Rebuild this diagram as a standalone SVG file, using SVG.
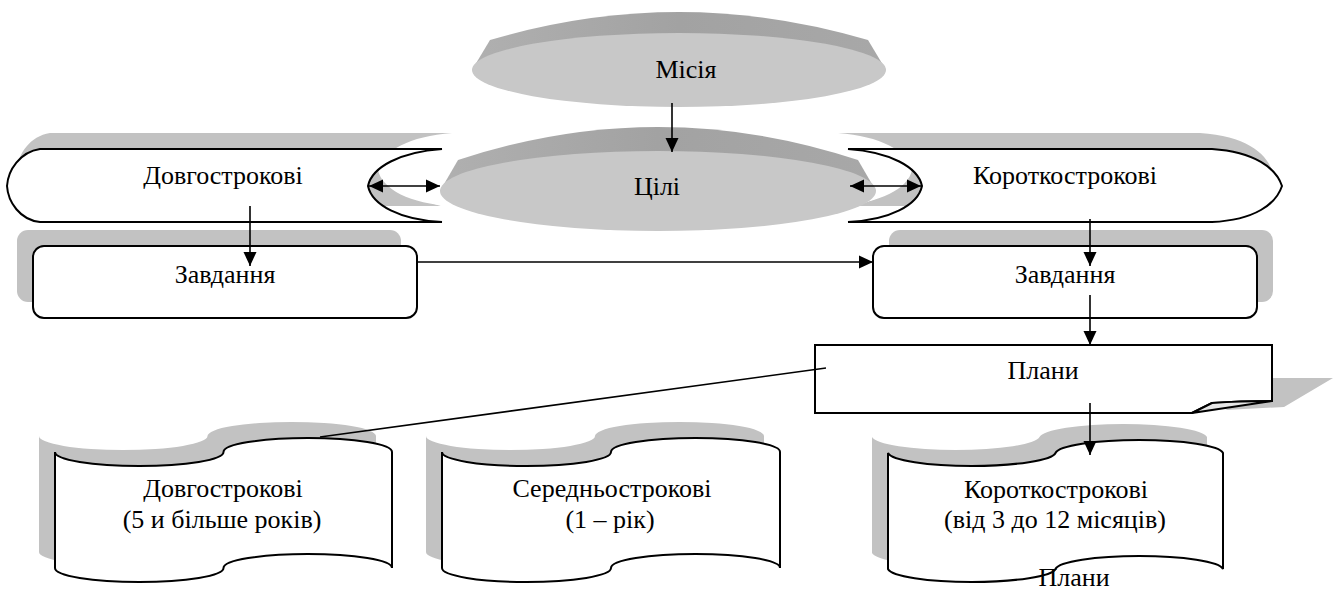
<svg xmlns="http://www.w3.org/2000/svg" width="1334" height="592" viewBox="0 0 1334 592">
<defs>
<style>
.t{font-family:"Liberation Serif","Times New Roman",serif;font-size:26px;fill:#000;text-anchor:middle}
.sh{fill:#c2c2c2}
.ol{fill:#fff;stroke:#000;stroke-width:2}
.band{fill:url(#bandg)}
.face{fill:#c8c8c8}
.cn{fill:none;stroke:#000;stroke-width:1.6}
</style>
<linearGradient id="bandg" x1="0" y1="0" x2="1" y2="0">
<stop offset="0" stop-color="#b0b0b0"/>
<stop offset="0.5" stop-color="#a2a2a2"/>
<stop offset="1" stop-color="#a8a8a8"/>
</linearGradient>
<marker id="ah" markerUnits="userSpaceOnUse" markerWidth="16" markerHeight="14" refX="14" refY="7" orient="auto-start-reverse">
<path d="M0,0.5 L14,7 L0,13.5 Z" fill="#000"/>
</marker>
</defs>

<g id="shadows">
<path class="sh" d="M452,133 L50,133 C30,136 18,154 17,170 C18,186 30,204 50,206 L452,206 C410,204 382,189 378,170 C382,151 410,136 452,133 Z"/>
<path class="sh" d="M838,133 L1200,133 C1245,136 1265,152 1272,170 C1265,188 1245,204 1200,206 L838,206 C880,203 908,189 912,170 C908,151 880,136 838,133 Z"/>
<rect class="sh" x="17" y="230" width="384" height="72" rx="11"/>
<rect class="sh" x="889" y="230" width="384" height="72" rx="11"/>
<polygon class="sh" points="1250,378 1333,378 1284,407 1225,410 1250,400"/>
<path class="sh" d="M39,436 A84,14 0 0 0 207.5,436 A84,14 0 0 1 376,436 L376,552 A84,14 0 0 0 207.5,552 A84,14 0 0 1 39,552 Z"/>
<path class="sh" d="M426,436 A84.5,14 0 0 0 595,436 A84.5,14 0 0 1 764,436 L764,552 A84.5,14 0 0 0 595,552 A84.5,14 0 0 1 426,552 Z"/>
<path class="sh" d="M872,437 A84,14 0 0 0 1039.5,437 A84,14 0 0 1 1207,437 L1207,553 A84,14 0 0 0 1039.5,553 A84,14 0 0 1 872,553 Z"/>
<ellipse cx="648" cy="172" rx="258" ry="57" fill="#fff"/>
</g>

<g id="long-goals">
<path class="ol" d="M442,149 L40,149 C20,152 8,170 7,186 C8,202 20,220 40,222 L442,222 C400,220 372,205 368,186 C372,167 400,152 442,149 Z"/>
<text class="t" x="223" y="184">Довгострокові</text>
</g>

<g id="short-goals">
<path class="ol" d="M848,149 L1212,149 C1255,152 1276,168 1282,186 C1276,204 1255,220 1212,222 L848,222 C890,220 918,205 922,186 C918,167 890,152 848,149 Z"/>
<text class="t" x="1065" y="184">Короткострокові</text>
</g>

<g id="tasks-left">
<rect class="ol" x="33" y="246" width="384" height="72" rx="11"/>
<text class="t" x="225" y="283">Завдання</text>
</g>

<g id="tasks-right">
<rect class="ol" x="873" y="246" width="384" height="72" rx="11"/>
<text class="t" x="1065" y="283">Завдання</text>
</g>

<g id="plans">
<path class="ol" d="M815,345 H1272 V401 Q1240,401 1212,403 L1192,413 H815 Z"/>
<path d="M1192,413 L1212,403 Q1240,401 1272,401 Z" fill="#e6e6e6" stroke="#000" stroke-width="2" stroke-linejoin="round"/>
<text class="t" x="1043" y="379">Плани</text>
</g>

<g id="plan-long">
<path class="ol" d="M55,452 A84,14 0 0 0 223.5,452 A84,14 0 0 1 392,452 L392,568 A84,14 0 0 0 223.5,568 A84,14 0 0 1 55,568 Z"/>
<text class="t" x="223" y="497">Довгострокові</text>
<text class="t" x="222" y="528">(5 и більше років)</text>
</g>

<g id="plan-mid">
<path class="ol" d="M442,452 A84.5,14 0 0 0 611,452 A84.5,14 0 0 1 780,452 L780,568 A84.5,14 0 0 0 611,568 A84.5,14 0 0 1 442,568 Z"/>
<text class="t" x="612" y="497">Середньострокові</text>
<text class="t" x="610" y="528">(1 – рік)</text>
</g>

<g id="plan-short">
<path class="ol" d="M888,453 A84,14 0 0 0 1055.5,453 A84,14 0 0 1 1223,453 L1223,569 A84,14 0 0 0 1055.5,569 A84,14 0 0 1 888,569 Z"/>
<text class="t" x="1056" y="498">Короткострокові</text>
<text class="t" x="1055" y="528">(від 3 до 12 місяців)</text>
</g>

<g id="plans-label">
<text class="t" x="1074" y="586">Плани</text>
</g>

<g id="mission">
<path class="band" d="M472,70 L490,40 Q679,-16 868,40 L886,70 Z"/>
<ellipse class="face" cx="679" cy="70" rx="207" ry="37"/>
<text class="t" x="686" y="78">Місія</text>
</g>

<g id="goals">
<path class="band" d="M440,191 L458,160 Q658,94 858,160 L876,191 Z"/>
<ellipse class="face" cx="658" cy="191" rx="218" ry="40"/>
<text class="t" x="657" y="195">Цілі</text>
</g>

<g id="connectors">
<line class="cn" x1="672" y1="103" x2="672" y2="152" marker-end="url(#ah)"/>
<line class="cn" x1="369" y1="186" x2="440" y2="186" marker-start="url(#ah)" marker-end="url(#ah)"/>
<line class="cn" x1="850" y1="186" x2="921" y2="186" marker-start="url(#ah)" marker-end="url(#ah)"/>
<line class="cn" x1="250" y1="206" x2="250" y2="266" marker-end="url(#ah)"/>
<line class="cn" x1="1090" y1="219" x2="1090" y2="266" marker-end="url(#ah)"/>
<line class="cn" x1="417" y1="262" x2="873" y2="262" marker-end="url(#ah)"/>
<line class="cn" x1="1090" y1="295" x2="1090" y2="345" marker-end="url(#ah)"/>
<line class="cn" x1="1090" y1="403" x2="1090" y2="455" marker-end="url(#ah)"/>
<line class="cn" x1="826" y1="368" x2="320" y2="437"/>
</g>
</svg>
